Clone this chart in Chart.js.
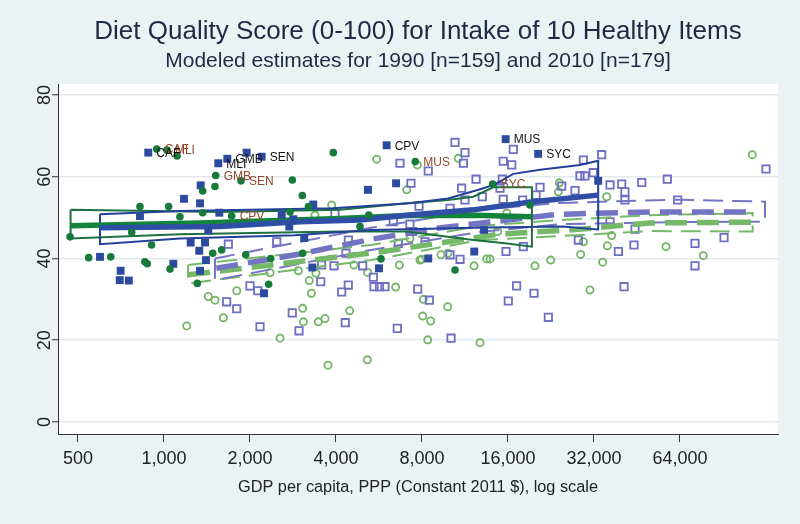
<!DOCTYPE html>
<html>
<head>
<meta charset="utf-8">
<script src="https://cdn.jsdelivr.net/npm/chart.js@4.4.1/dist/chart.umd.min.js"></script>
<style>
    html, body { margin: 0; padding: 0; background: #eaf2f4; }
</style>
</head>
<body>
<canvas id="dietChart" width="800" height="524"></canvas>
<script>
// axis ticks
var xTicks = [500, 1000, 2000, 4000, 8000, 16000, 32000, 64000];
var yTicks = [0, 20, 40, 60, 80];

// filled squares (dark blue)
var blueGdp = [881, 1549, 1666, 1947, 2197, 6017, 15700, 20400, 1344, 1175, 1337, 1562, 824, 2582, 3331, 2836, 2745, 1429, 1240, 1392, 3097, 1329, 1403, 597, 1078, 705, 700, 753, 1337, 2239, 3306, 6490, 5176, 33100, 12190, 8415, 13190, 5657];
var blueScore = [65.9, 63.3, 64.4, 65.9, 64.9, 67.7, 69.2, 65.6, 57.9, 54.6, 53.5, 51.2, 50.4, 50.7, 53.2, 49.6, 47.8, 46.8, 43.9, 43.9, 45.0, 41.9, 39.6, 40.4, 38.7, 37.0, 34.7, 34.6, 37.0, 31.5, 37.8, 58.4, 56.8, 59.0, 41.7, 40.0, 47.0, 37.6];
var blueLabels = ['CAF', 'MLI', 'GMB', '', 'SEN', 'CPV', 'MUS', 'SYC'];

// filled circles (dark green)
var greenGdp = [943, 1024, 1111, 3915, 1517, 1860, 1725, 7580, 14140, 1508, 1366, 2813, 3049, 824, 1038, 1137, 1366, 2762, 3204, 469, 771, 905, 545, 651, 857, 874, 1050, 1481, 1592, 1932, 3057, 2363, 1308, 2325, 19100, 5210, 4854, 5749, 10440];
var greenScore = [66.8, 66.5, 65.1, 65.9, 60.3, 59.0, 50.4, 63.7, 58.2, 57.6, 56.5, 59.2, 55.4, 52.7, 52.7, 50.2, 51.2, 51.4, 52.7, 45.3, 46.4, 43.3, 40.2, 40.4, 39.2, 38.7, 37.4, 41.3, 42.1, 40.9, 41.3, 40.0, 33.9, 33.7, 53.1, 50.6, 47.8, 39.9, 37.2];
var greenLabels = ['CAF', 'MLI', '', '', 'GMB', 'SEN', 'CPV', 'MUS', 'SYC'];

// hollow squares (light purple)
var purpleGdp = [2000, 2130, 1657, 1797, 2168, 2812, 2969, 3536, 4187, 4417, 4310, 3937,
    5436, 5937, 7728, 8488, 6556, 10110, 17150, 19730, 16040, 22150, 40770, 38950, 15750, 10030, 4959,
    34040, 29370, 31820, 28580, 29760, 36410, 40000, 41070, 47010, 57770, 128000, 62800, 41070, 27460, 36410, 44540, 28210, 44170, 72220, 91270, 72220,
    10440, 11310, 11170, 8415, 6700, 16700, 15400, 16490, 12370, 7320, 11010, 15280, 15000, 20710, 13010, 15400, 18000, 24670, 7810, 10030, 6350, 7260, 6610, 5405, 10870, 18100,
    1680, 2480, 3967, 4335,
    8198, 4420, 3562, 5680, 11310, 20060, 7430];
var purpleScore = [33.3, 32.1, 29.4, 27.7, 23.3, 26.7, 22.3, 34.3, 31.8, 33.5, 24.3, 38.2,
    33.1, 33.1, 32.5, 29.8, 22.9, 20.5, 33.3, 31.5, 29.6, 25.6, 33.1, 41.7, 41.7, 40.9, 38.2,
    65.4, 64.1, 61.0, 60.2, 60.2, 58.0, 58.2, 56.3, 58.6, 59.4, 61.9, 54.3, 54.3, 56.6, 49.0, 47.2, 44.5, 43.3, 43.7, 45.1, 38.2,
    68.4, 65.9, 63.3, 61.4, 63.3, 66.7, 63.8, 62.9, 59.4, 58.4, 57.2, 59.4, 57.2, 57.4, 55.1, 54.5, 54.3, 57.7, 52.8, 52.3, 49.0, 48.4, 43.7, 35.4, 39.8, 42.9,
    43.5, 44.1, 51.1, 41.3,
    44.1, 44.5, 38.4, 33.1, 54.3, 55.5, 46.6];

// hollow circles (light green)
var lgreenGdp = [1201, 1429, 1508, 1613, 1797, 2351, 2548, 2952, 3226, 3279, 3059, 3074, 3468, 3661, 4466, 3750, 3403,
    5148, 8045, 8580, 8087, 9842, 8376, 12770, 6664, 6470, 12170, 13470, 13840, 19890, 22580, 28730, 34320, 30970, 9326, 7980, 5162,
    114600, 35440, 29370, 35630, 57170, 77230, 36910,
    5552, 7705, 10720, 7070, 15840, 24200, 24000, 7870, 7260,
    3864, 3377, 14710, 9863, 4624];
var lgreenScore = [23.5, 30.7, 29.8, 25.5, 32.1, 36.5, 20.5, 37.0, 34.6, 31.5, 27.8, 24.5, 24.5, 25.3, 27.2, 13.9, 36.4,
    15.2, 25.9, 24.7, 30.0, 28.2, 20.1, 19.4, 38.4, 33.0, 38.2, 39.9, 39.9, 38.2, 39.6, 41.0, 39.1, 32.3, 40.9, 39.8, 36.6,
    65.4, 55.1, 44.1, 43.1, 42.9, 40.7, 45.6,
    64.3, 62.9, 64.5, 56.8, 51.1, 58.5, 56.3, 39.6, 44.9,
    53.1, 50.6, 46.6, 41.3, 38.4];

// fitted lines and confidence bands
var blueFitGdp = [597, 1570, 2992, 4854, 7070, 12100, 19500, 33100];
var blueFitScore = [47.5, 47.8, 49.0, 49.4, 50.6, 51.9, 53.9, 55.5];
var blueHiGdp = [597, 1138, 3904, 7240, 9863, 12610, 14270, 16700, 20710, 28580, 33100];
var blueHiScore = [50.8, 51.6, 52.3, 53.5, 54.7, 56.8, 58.0, 60.7, 61.7, 62.9, 63.9];
var blueLoGdp = [597, 1138, 2870, 5322, 13400, 24870, 33100];
var blueLoScore = [43.5, 44.9, 45.7, 47.0, 47.6, 47.8, 47.1];

var greenFitGdp = [471, 1337, 4130, 7070, 12100, 19400];
var greenFitScore = [48.0, 48.7, 49.8, 50.5, 50.6, 50.2];
var greenHiGdp = [471, 1570, 4130, 7070, 9863, 12100, 14200, 19400];
var greenHiScore = [51.9, 51.4, 51.9, 53.5, 54.3, 55.1, 57.4, 57.4];
var greenLoGdp = [471, 1138, 4130, 7070, 12100, 15620, 19400];
var greenLoScore = [44.9, 45.9, 46.6, 46.6, 44.5, 43.7, 42.9];

var purpleFitGdp = [1525, 2992, 5322, 9027, 23760, 50250, 116100];
var purpleFitScore = [37.6, 41.1, 44.7, 47.4, 50.8, 51.4, 51.4];
var purpleHiGdp = [1508, 5305, 12770, 24330, 64000, 126950];
var purpleHiScore = [40.0, 47.5, 51.9, 53.6, 54.4, 53.9];
var purpleLoGdp = [1508, 5305, 12770, 24330, 64000, 126950];
var purpleLoScore = [34.7, 42.1, 46.5, 48.4, 48.9, 49.0];

var lgreenFitGdp = [1214, 5704, 15000, 26800, 50250, 115300];
var lgreenFitScore = [36.0, 41.6, 46.0, 47.0, 48.7, 48.9];
var lgreenHiGdp = [1214, 5305, 12770, 24330, 50250, 114950];
var lgreenHiScore = [38.4, 43.3, 48.0, 49.4, 50.6, 51.1];
var lgreenLoGdp = [1214, 5305, 12770, 24330, 50250, 114950];
var lgreenLoScore = [33.9, 39.6, 44.5, 45.5, 46.7, 46.6];

var fontFamily = "'Liberation Sans', Arial, sans-serif";
var textColor = '#222';

function toPoints(xs, ys) {
    return xs.map((x, i) => ({ x: x, y: ys[i] }));
}

// closed outline: upper edge, right end, lower edge back, left end
function toBand(hx, hy, lx, ly) {
    var upper = toPoints(hx, hy);
    var lower = toPoints(lx, ly).reverse();
    return upper.concat(lower, [upper[0]]);
}

function lineSet(points, color, width, dash, order) {
    return {
        type: 'scatter',
        data: points,
        showLine: true,
        borderColor: color,
        borderWidth: width,
        borderDash: dash,
        pointRadius: 0,
        fill: false,
        tension: 0,
        order: order
    };
}

//background: grey-blue page with white plot region
var backgroundPlugin = {
    id: 'backgroundPlugin',
    beforeDraw: (chart) => {
        var c = chart.ctx;
        var a = chart.chartArea;
        c.save();
        c.fillStyle = '#eaf2f4';
        c.fillRect(0, 0, chart.width, chart.height);
        c.fillStyle = '#ffffff';
        c.fillRect(a.left, a.top, a.right - a.left, a.bottom - a.top);
        c.restore();
    }
};

// country labels at 3 o'clock of the marker
var labelPlugin = {
    id: 'labelPlugin',
    afterDatasetsDraw: (chart) => {
        var c = chart.ctx;
        c.save();
        c.font = '12px ' + fontFamily;
        c.textBaseline = 'middle';
        c.textAlign = 'left';
        chart.data.datasets.forEach((ds, i) => {
            if (!ds.pointLabels) return;
            var meta = chart.getDatasetMeta(i);
            c.fillStyle = ds.labelColor;
            ds.pointLabels.forEach((txt, j) => {
                if (!txt) return;
                var el = meta.data[j];
                c.fillText(txt, el.x + 8, el.y + 1);
            });
        });
        c.restore();
    }
};

var ctx = document.getElementById('dietChart').getContext('2d');

new Chart(ctx, {
    type: 'scatter',
    data: {
        datasets: [
            {
                data: toPoints(greenGdp, greenScore),
                pointStyle: 'circle',
                pointRadius: 3.8,
                backgroundColor: '#177a3b',
                borderColor: '#177a3b',
                borderWidth: 0,
                pointLabels: greenLabels,
                labelColor: '#95472a',
                order: 0
            },
            {
                data: toPoints(blueGdp, blueScore),
                pointStyle: 'rect',
                pointRadius: 5.6,
                backgroundColor: '#2c4a9e',
                borderColor: '#2c4a9e',
                borderWidth: 0,
                pointLabels: blueLabels,
                labelColor: '#111111',
                order: 0
            },
            lineSet(toPoints(blueFitGdp, blueFitScore), '#2f4ea6', 5.5, [], 1),
            lineSet(toPoints(greenFitGdp, greenFitScore), '#13843c', 5.5, [], 2),
            lineSet(toBand(blueHiGdp, blueHiScore, blueLoGdp, blueLoScore), '#22409a', 2, [], 3),
            lineSet(toBand(greenHiGdp, greenHiScore, greenLoGdp, greenLoScore), '#1d7040', 2, [], 4),
            lineSet(toPoints(purpleFitGdp, purpleFitScore), '#7474c4', 5.5, [22, 10], 5),
            lineSet(toPoints(lgreenFitGdp, lgreenFitScore), '#74b868', 5.5, [22, 10], 6),
            lineSet(toBand(purpleHiGdp, purpleHiScore, purpleLoGdp, purpleLoScore), '#7474c4', 2, [20, 9], 7),
            lineSet(toBand(lgreenHiGdp, lgreenHiScore, lgreenLoGdp, lgreenLoScore), '#74b868', 2, [20, 9], 8),
            {
                data: toPoints(purpleGdp, purpleScore),
                pointStyle: 'rect',
                pointRadius: 5.2,
                backgroundColor: 'rgba(0,0,0,0)',
                borderColor: '#6e6ec2',
                borderWidth: 1.8,
                order: 9
            },
            {
                data: toPoints(lgreenGdp, lgreenScore),
                pointStyle: 'circle',
                pointRadius: 3.6,
                backgroundColor: 'rgba(0,0,0,0)',
                borderColor: '#73b566',
                borderWidth: 1.8,
                order: 10
            }
        ]
    },
    options: {
        responsive: false,
        animation: false,
        events: [],
        layout: { padding: { left: 0, right: 22, top: 0, bottom: 0 } },
        plugins: {
            legend: { display: false },
            tooltip: { enabled: false },
            title: {
                display: true,
                fullSize: false,
                text: 'Diet Quality Score (0-100) for Intake of 10 Healthy Items',
                color: '#1e2a44',
                font: { family: fontFamily, size: 26, weight: 'normal' },
                padding: { top: 16.5, bottom: 1.2 }
            },
            subtitle: {
                display: true,
                fullSize: false,
                text: 'Modeled estimates for 1990 [n=159] and 2010 [n=179]',
                color: '#1e2a44',
                font: { family: fontFamily, size: 21, weight: 'normal' },
                padding: { top: 0, bottom: 9.9 }
            }
        },
        scales: {
            x: {
                type: 'logarithmic',
                min: 425.6,
                max: 141000,
                afterBuildTicks: (s) => { s.ticks = xTicks.map((v) => ({ value: v })); },
                afterFit: (s) => { s.height = 90; },
                ticks: {
                    autoSkip: false,
                    maxRotation: 0,
                    padding: 6,
                    color: textColor,
                    font: { family: fontFamily, size: 18 },
                    callback: (v) => Number(v).toLocaleString('en-US')
                },
                grid: { drawOnChartArea: false, tickLength: 8, tickColor: '#333', tickWidth: 1 },
                border: { color: '#333', width: 1 },
                title: {
                    display: true,
                    text: 'GDP per capita, PPP (Constant 2011 $), log scale',
                    color: textColor,
                    font: { family: fontFamily, size: 16.3 },
                    padding: { top: 0, bottom: 27 }
                }
            },
            y: {
                min: -2.94,
                max: 82.69,
                afterBuildTicks: (s) => { s.ticks = yTicks.map((v) => ({ value: v })); },
                afterFit: (s) => { s.width = 58; },
                ticks: {
                    minRotation: 90,
                    maxRotation: 90,
                    crossAlign: 'center',
                    padding: -3,
                    color: textColor,
                    font: { family: fontFamily, size: 18 }
                },
                grid: { color: '#e3eaee', lineWidth: 1.5, tickLength: 6, tickColor: '#333', tickWidth: 1 },
                border: { color: '#333', width: 1 }
            }
        }
    },
    plugins: [backgroundPlugin, labelPlugin]
});
</script>
</body>
</html>
